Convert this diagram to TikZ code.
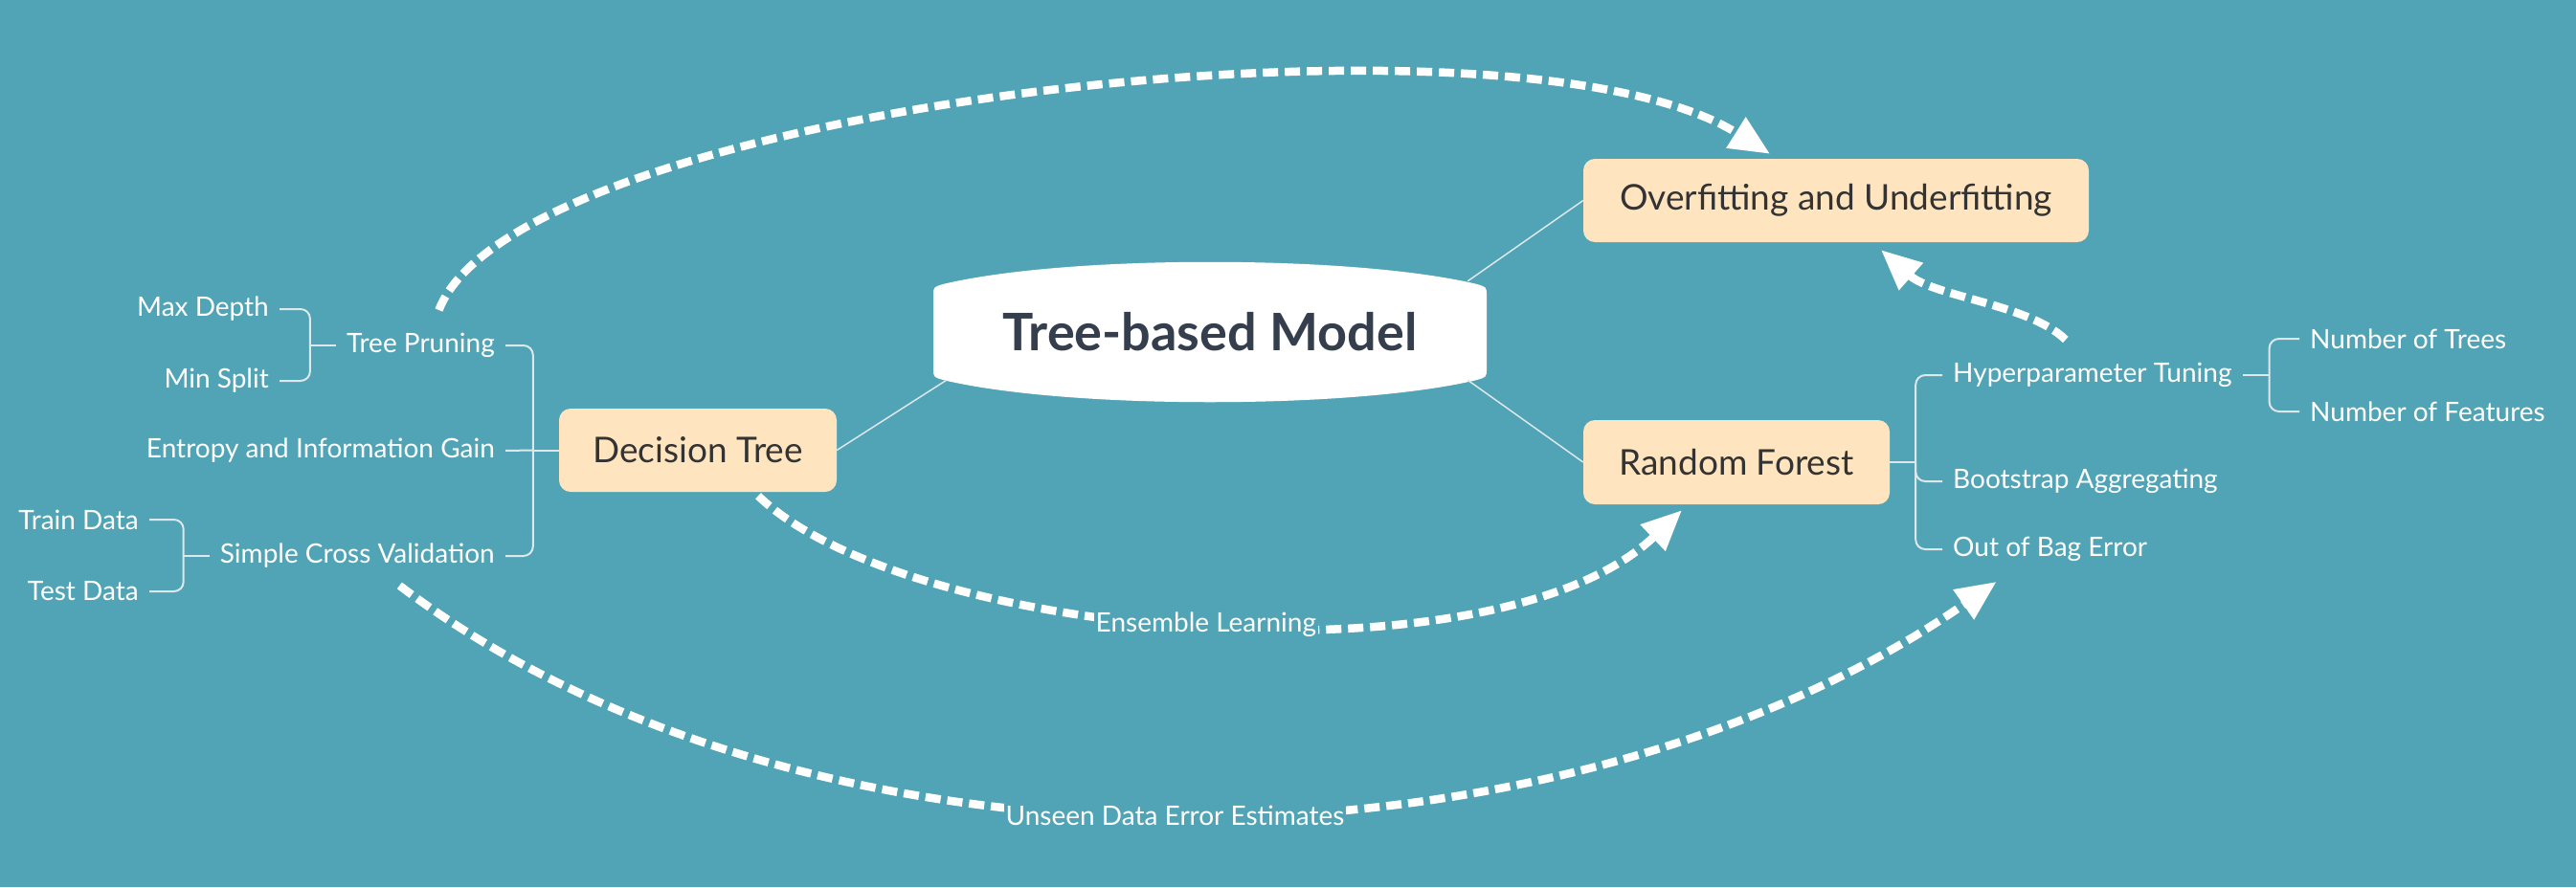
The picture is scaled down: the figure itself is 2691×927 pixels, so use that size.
\documentclass[tikz,border=0pt]{standalone}
\usepackage{fontspec}
\setmainfont{Lato}
\usetikzlibrary{arrows.meta}
\definecolor{bgteal}{HTML}{51A4B5}
\definecolor{peach}{HTML}{FFE5BF}
\definecolor{inkdark}{HTML}{333333}
\definecolor{inkslate}{HTML}{343E4C}
\definecolor{twigcol}{HTML}{DCE8EB}
\begin{document}
\begin{tikzpicture}[x=1pt,y=-1pt,
    topic/.style={fill=peach,rounded corners=12pt,text=inkdark,inner sep=0pt,
      font=\fontsize{37}{40}\selectfont},
    leaf/.style={text=white,inner xsep=11pt,inner ysep=4pt,
      font=\fontsize{28}{30}\selectfont},
    twig/.style={draw=twigcol,line width=2pt,rounded corners=10pt},
    spoke/.style={draw=twigcol,line width=1.5pt},
    link/.style={draw=white,line width=8.5pt,dash pattern=on 16pt off 7pt,
      -{Triangle[length=42pt,width=36pt]}},
    tag/.style={fill=bgteal,text=white,inner sep=2pt,
      font=\fontsize{28}{30}\selectfont}]
\useasboundingbox (0,0) rectangle (2691,927);
\fill[bgteal] (0,0) rectangle (2691,927);
% central topic
\begin{scope}[shift={(1264,347)}]
  \fill[white] (-289,-38) .. controls (-289,-47) .. (-279,-50)
    .. controls (-150,-81) and (150,-81) .. (279,-50)
    .. controls (289,-47) .. (289,-38) -- (289,38)
    .. controls (289,47) .. (279,50)
    .. controls (150,81) and (-150,81) .. (-279,50)
    .. controls (-289,47) .. (-289,38) -- cycle;
\end{scope}
\node[text=inkslate,inner sep=0pt,minimum width=578pt,minimum height=100pt,
  font=\bfseries\fontsize{54}{58}\selectfont] (tbm) at (1264,347) {Tree-based Model};
% main topics
\node[topic,minimum width=290pt,minimum height=87pt] (dt) at (729,470.5) {Decision Tree};
\node[topic,minimum width=528pt,minimum height=87pt] (of) at (1918,209.5) {Overfitting and Underfitting};
\node[topic,minimum width=320pt,minimum height=88pt] (rf) at (1814,483) {Random Forest};
\draw[spoke] ([xshift=14pt]tbm.south west) -- (dt.east);
\draw[spoke] ([xshift=-20pt,yshift=3pt]tbm.north east) -- (of.west);
\draw[spoke] ([xshift=-20pt]tbm.south east) -- (rf.west);
% decision tree side
\node[leaf,anchor=east] (tp) at (528,361) {Tree Pruning};
\node[leaf,anchor=east] (eig) at (528,471) {Entropy and Information Gain};
\node[leaf,anchor=east] (scv) at (528,581) {Simple Cross Validation};
\node[leaf,anchor=east] (md) at (292,323) {Max Depth};
\node[leaf,anchor=east] (ms) at (292,398) {Min Split};
\node[leaf,anchor=east] (trd) at (156,543) {Train Data};
\node[leaf,anchor=east] (ted) at (156,618) {Test Data};
\draw[twig] (dt.west) -- ++(-27,0) coordinate (dtk);
\draw[twig] (tp.east) -| (dtk) |- (scv.east);
\draw[twig] (dtk) -- (eig.east);
\draw[twig] (tp.west) -- ++(-27,0) coordinate (tpk);
\draw[twig] (md.east) -| (tpk) |- (ms.east);
\draw[twig] (scv.west) -- ++(-27,0) coordinate (scvk);
\draw[twig] (trd.east) -| (scvk) |- (ted.east);
% random forest side
\node[leaf,anchor=west] (hpt) at (2029,392) {Hyperparameter Tuning};
\node[leaf,anchor=west] (boot) at (2029,503) {Bootstrap Aggregating};
\node[leaf,anchor=west] (oob) at (2029,574) {Out of Bag Error};
\node[leaf,anchor=west] (ntr) at (2402,354) {Number of Trees};
\node[leaf,anchor=west] (nft) at (2402,430) {Number of Features};
\draw[twig] (rf.east) -- ++(27,0) coordinate (rfk);
\draw[twig] (hpt.west) -| (rfk) |- (oob.west);
\draw[twig] (rfk) |- (boot.west);
\draw[twig] (hpt.east) -- ++(28,0) coordinate (hptk);
\draw[twig] (ntr.west) -| (hptk) |- (nft.west);
% relations
\draw[link] ([xshift=19pt,yshift=20pt]tp.north) .. controls (540,110) and (1580,-8) .. ([xshift=-69pt,yshift=5pt]of.north);
\draw[link] ([xshift=-28pt,yshift=20pt]hpt.north) .. controls (2120,318) and (2020,310) .. ([xshift=47pt,yshift=-8pt]of.south);
\draw[link] ([xshift=63pt,yshift=-4pt]dt.south) .. controls (950,670) and (1560,720) .. ([xshift=-57pt,yshift=-6pt]rf.south)
  node[tag,pos=0.5] {Ensemble Learning};
\draw[link] ([xshift=44pt,yshift=-14pt]scv.south) .. controls (854,943) and (1634,922) .. ([xshift=-56pt,yshift=-17pt]oob.south)
  node[tag,pos=0.49] {Unseen Data Error Estimates};
\end{tikzpicture}
\end{document}
